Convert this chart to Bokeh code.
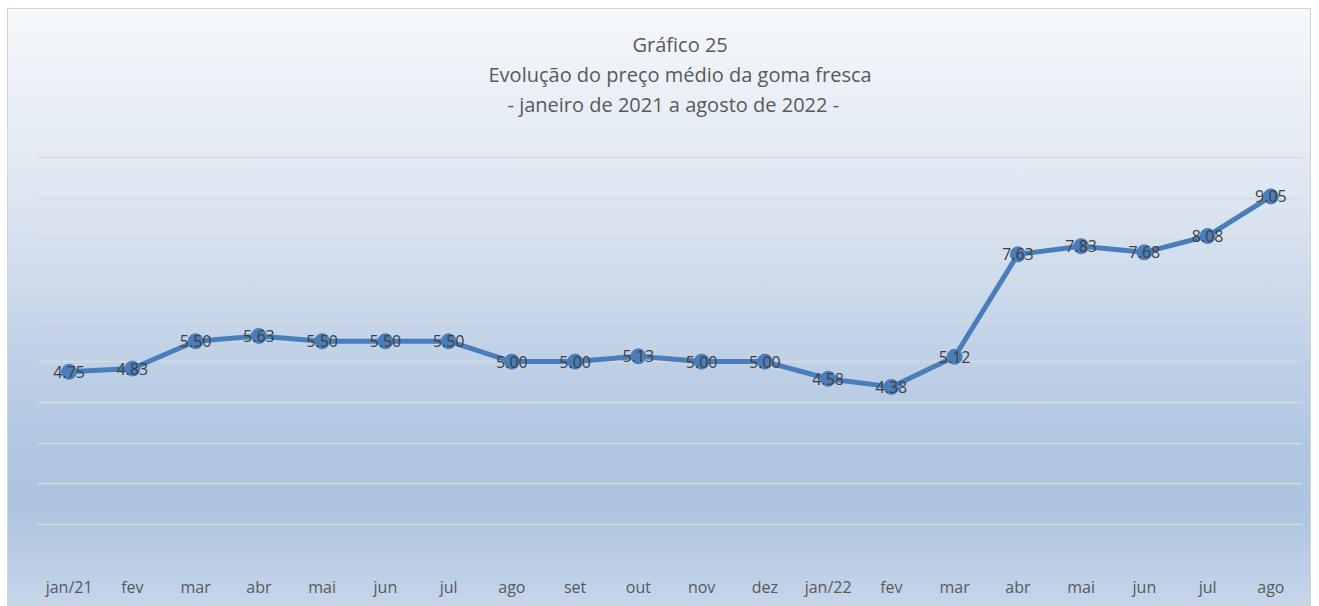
from bokeh.plotting import figure
from bokeh.models import FixedTicker, Title, SingleIntervalTicker, Range1d, ColumnDataSource
from bokeh.core.properties import value
from bokeh.embed import file_html
from bokeh.resources import INLINE

months = ["jan/21", "fev", "mar", "abr", "mai", "jun", "jul", "ago", "set", "out",
          "nov", "dez", "jan/22", "fev", "mar", "abr", "mai", "jun", "jul", "ago"]
prices = [4.75, 4.83, 5.50, 5.63, 5.50, 5.50, 5.50, 5.00, 5.00, 5.13,
          5.00, 5.00, 4.58, 4.38, 5.12, 7.63, 7.83, 7.68, 8.08, 9.05]
title_lines = ["Gráfico 25",
               "Evolução do preço médio da goma fresca",
               "- janeiro de 2021 a agosto de 2022 -"]

idx = list(range(len(months)))
src = ColumnDataSource(dict(x=idx, y=prices, lab=[f"{v:.2f}" for v in prices]))

FONT = "Open Sans"
p = figure(width=1304, height=598, output_backend="svg", toolbar_location=None,
           x_range=Range1d(-0.5, len(months) - 0.5), y_range=Range1d(0, 10.03),
           min_border_left=30, min_border_right=9, min_border_top=148, min_border_bottom=41)
p.styles = {"background": "linear-gradient(to bottom, #f5f8fc 0%, #dfe7f2 30%, #b3c8e2 70%, #adc3df 83%, #c6d6ea 100%)",
            "outline": "1px solid #d4d4d4", "outline-offset": "-1px",
            "margin-left": "7px", "margin-top": "8px"}
p.border_fill_alpha = 0
p.background_fill_alpha = 0
p.outline_line_color = None

p.line("x", "y", source=src, line_color="#4a7ebb", line_width=5, line_join="round")
p.scatter("x", "y", source=src, size=15, fill_color="#4a7ebb", line_color="#4a7ebb")
p.text("x", "y", text="lab", source=src, text_align="center", text_baseline="middle",
       text_font=value(FONT), text_font_size="16px", text_color="#404040")

p.yaxis.visible = False
p.ygrid.ticker = SingleIntervalTicker(interval=1)
p.ygrid.grid_line_color = "#d9d9d9"
p.ygrid.grid_line_width = 1.5
p.xgrid.visible = False

p.xaxis.ticker = FixedTicker(ticks=idx)
p.xaxis.major_label_overrides = {i: m for i, m in zip(idx, months)}
p.xaxis.axis_line_color = None
p.xaxis.major_tick_line_color = None
p.xaxis.minor_tick_line_color = None
p.xaxis.major_label_standoff = 4
p.xaxis.major_label_text_font = FONT
p.xaxis.major_label_text_font_size = "16px"
p.xaxis.major_label_text_color = "#595959"

# spacer closest to the plot, then title lines from bottom to top
p.add_layout(Title(text=" ", standoff=9, text_font=FONT, text_font_size="20px"), "above")
title_offsets = [595, 451, 470]
for t, off in reversed(list(zip(title_lines, title_offsets))):
    p.add_layout(Title(text=t, align="left", offset=off, standoff=1, text_font=FONT,
                       text_font_size="20px", text_font_style="normal",
                       text_color="#595959"), "above")

open("out.html", "w").write(file_html(p, INLINE))
